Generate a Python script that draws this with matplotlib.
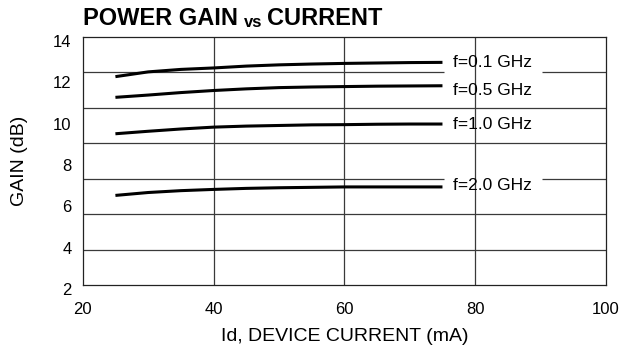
import matplotlib
matplotlib.use("Agg")
import matplotlib.pyplot as plt
import matplotlib.transforms as mtransforms
import numpy as np

plt.rcParams['font.family'] = ['Liberation Sans', 'DejaVu Sans']

# ---- data ----
current_ma = [25, 30, 35, 40, 45, 50, 55, 60, 65, 70, 75]
gain_0_1ghz = [12.07, 12.30, 12.42, 12.49, 12.58, 12.64, 12.68, 12.71, 12.73, 12.75, 12.76]
gain_0_5ghz = [11.07, 11.18, 11.30, 11.40, 11.48, 11.54, 11.57, 11.59, 11.61, 11.62, 11.63]
gain_1_0ghz = [9.31, 9.43, 9.54, 9.63, 9.68, 9.71, 9.74, 9.75, 9.77, 9.78, 9.78]
gain_2_0ghz = [6.33, 6.47, 6.56, 6.62, 6.67, 6.70, 6.72, 6.74, 6.74, 6.74, 6.74]
series_labels = ["f=0.1 GHz", "f=0.5 GHz", "f=1.0 GHz", "f=2.0 GHz"]
x_ticks = [20, 40, 60, 80, 100]
y_ticks = [2, 4, 6, 8, 10, 12, 14]

series = [gain_0_1ghz, gain_0_5ghz, gain_1_0ghz, gain_2_0ghz]
label_y = [12.74, 11.42, 9.78, 6.83]

fig = plt.figure(figsize=(6.2, 3.5), dpi=100)
ax = fig.add_axes([0.1334, 0.1857, 0.8440, 0.7094])
ax.set_xlim(20, 100)
ax.set_ylim(2, 14)

grid_col = '#3a3a3a'
# vertical grid lines
for xv in [40, 60, 80]:
    ax.axvline(xv, color=grid_col, lw=0.9, zorder=1)
# horizontal grid lines (7 intervals, independent of labels)
for k in range(1, 7):
    yv = 2 + k * 12 / 7
    if k in (6, 3):
        ax.hlines(yv, 20, 75.3, color=grid_col, lw=0.9, zorder=1)
        ax.hlines(yv, 90.2, 100, color=grid_col, lw=0.9, zorder=1)
    else:
        ax.axhline(yv, color=grid_col, lw=0.9, zorder=1)

for ys, lab, ly in zip(series, series_labels, label_y):
    ax.plot(current_ma, ys, color='black', lw=2.2, solid_capstyle='butt', zorder=3)
    ax.text(76.6, ly, lab, fontsize=12.5, va='center', ha='left', color='black', zorder=4)

ax.set_xticks(x_ticks)
ax.set_yticks(y_ticks)
ax.tick_params(axis='both', length=0, labelsize=12)
ax.tick_params(axis='x', pad=12)
ax.tick_params(axis='y', pad=8)
offset = mtransforms.ScaledTranslation(0, -3 / 72, fig.dpi_scale_trans)
for lbl in ax.get_yticklabels():
    lbl.set_transform(lbl.get_transform() + offset)

for sp in ax.spines.values():
    sp.set_color('#222222')
    sp.set_linewidth(0.9)

ax.set_xlabel("Id, DEVICE CURRENT (mA)", fontsize=14, labelpad=8)
ax.set_ylabel("GAIN (dB)", fontsize=14, labelpad=18)

# title with smaller "vs"
t1 = fig.text(83 / 620, 1 - 30 / 350, "POWER GAIN", fontsize=17, fontweight='bold', ha='left', va='bottom')
t2 = ax.annotate("vs", xy=(1, 0), xycoords=t1, xytext=(4, 0), textcoords='offset points',
                 fontsize=12, fontweight='bold', ha='left', va='bottom')
t3 = ax.annotate("CURRENT", xy=(1, 0), xycoords=t2, xytext=(4, 0), textcoords='offset points',
                 fontsize=17, fontweight='bold', ha='left', va='bottom')

fig.savefig("out.png", dpi=100)
